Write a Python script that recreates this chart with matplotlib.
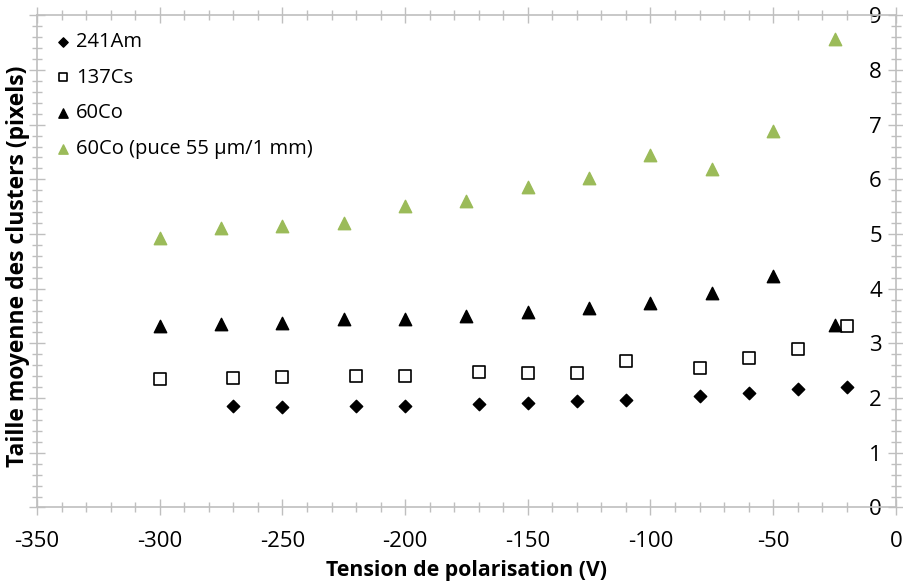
import matplotlib.pyplot as plt
from matplotlib.ticker import MultipleLocator

plt.rcParams['font.family'] = ['Open Sans', 'DejaVu Sans']
plt.rcParams['axes.unicode_minus'] = False

# 241Am
am_v = [-270, -250, -220, -200, -170, -150, -130, -110, -80, -60, -40, -20]
am_size = [1.86, 1.83, 1.85, 1.86, 1.89, 1.91, 1.95, 1.97, 2.03, 2.09, 2.17, 2.20]

# 137Cs
cs_v = [-300, -270, -250, -220, -200, -170, -150, -130, -110, -80, -60, -40, -20]
cs_size = [2.35, 2.37, 2.39, 2.41, 2.41, 2.48, 2.46, 2.46, 2.68, 2.55, 2.73, 2.89, 3.31]

# 60Co
co_v = [-300, -275, -250, -225, -200, -175, -150, -125, -100, -75, -50, -25]
co_size = [3.31, 3.35, 3.37, 3.45, 3.45, 3.50, 3.57, 3.65, 3.73, 3.93, 4.24, 3.34]

# 60Co (puce 55 um / 1 mm)
co2_size = [4.93, 5.11, 5.14, 5.20, 5.51, 5.60, 5.86, 6.02, 6.44, 6.19, 6.88, 8.57]

labels = ['241Am', '137Cs', '60Co', '60Co (puce 55 µm/1 mm)']
green = '#9BBB59'
grid_col = '#BFBFBF'

fig = plt.figure(figsize=(9.04, 5.86), dpi=100)
ax = fig.add_axes([0.041, 0.134, 0.950, 0.840])

ax.scatter(am_v, am_size, marker='D', s=40, color='black', label=labels[0], zorder=3)
ax.scatter(cs_v, cs_size, marker='s', s=70, facecolor='white', edgecolor='black',
           linewidth=1.2, label=labels[1], zorder=3)
ax.scatter(co_v, co_size, marker='^', s=80, color='black', label=labels[2], zorder=3)
ax.scatter(co_v, co2_size, marker='^', s=80, color=green, label=labels[3], zorder=3)

ax.set_xlim(-350, 0)
ax.set_ylim(0, 9)
ax.xaxis.set_major_locator(MultipleLocator(50))
ax.xaxis.set_minor_locator(MultipleLocator(10))
ax.yaxis.set_major_locator(MultipleLocator(1))
ax.yaxis.set_minor_locator(MultipleLocator(0.2))

# y axis drawn at x = 0, frame on the left at -350
ax.spines['left'].set_position(('data', 0))
ax.spines['right'].set_position(('data', -350))
ax.yaxis.set_ticks_position('both')
ax.xaxis.set_ticks_position('both')
for sp in ax.spines.values():
    sp.set_color(grid_col)
    sp.set_linewidth(1.2)

ax.tick_params(axis='both', which='major', direction='inout', length=12, width=1,
               color=grid_col, labelsize=16, labelcolor='black')
ax.tick_params(axis='both', which='minor', direction='inout', length=7, width=1,
               color=grid_col)
ax.tick_params(axis='x', which='major', pad=11)
ax.tick_params(axis='y', which='major', pad=4)

ax.set_xlabel('Tension de polarisation (V)', fontsize=15.3, fontweight='bold', labelpad=6)
fig.text(0.02, 0.545, 'Taille moyenne des clusters (pixels)', rotation=90,
         fontsize=16.5, fontweight='bold', ha='center', va='center')

ax.legend(loc='upper left', bbox_to_anchor=(0.0, 0.995), frameon=False, fontsize=14.5,
          handletextpad=0.05, labelspacing=0.78, borderaxespad=0.3, handlelength=1.2,
          markerscale=0.75)

fig.savefig('out.png', dpi=100)
